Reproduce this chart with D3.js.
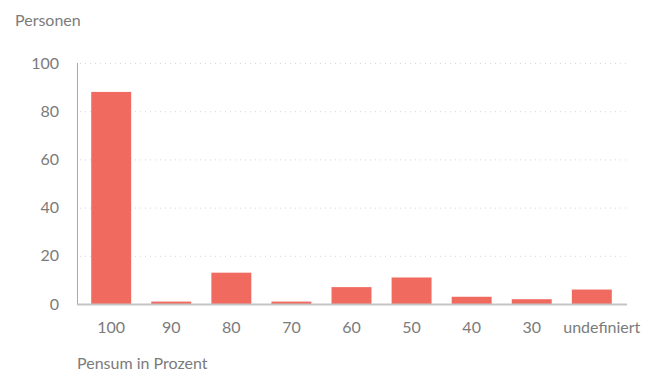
<!DOCTYPE html>
<html>
<head>
<meta charset="utf-8">
<script src="https://cdn.jsdelivr.net/npm/d3@7"></script>
<style>
  body { margin: 0; background: #fff; }
  text { font-family: Lato, "Open Sans", sans-serif; fill: #7b7b7b; }
</style>
</head>
<body>
<div id="graph"></div>
<script>
const categories = ['100', '90', '80', '70', '60', '50', '40', '30', 'undefiniert']
const values = [88, 1, 13, 1, 7, 11, 3, 2, 6]
const yTicks = [0, 20, 40, 60, 80, 100]

const width = 661
const height = 372
const margin = {top: 63, right: 34, bottom: 68, left: 77}

const svg = d3.select('#graph')
  .append('svg')
  .attr('width', width)
  .attr('height', height)

const x = d3.scaleBand()
  .domain(categories)
  .range([81, 622])
  .paddingInner(0.335)
  .paddingOuter(0.17)

const y = d3.scaleLinear()
  .domain([0, 100])
  .range([height - margin.bottom, margin.top])

// dotted grid
svg.append('g')
  .selectAll('line')
  .data(yTicks.filter(d => d > 0))
  .join('line')
  .attr('x1', margin.left + 3)
  .attr('x2', width - margin.right)
  .attr('y1', d => y(d) + 0.5)
  .attr('y2', d => y(d) + 0.5)
  .attr('stroke', '#d6d6d6')
  .attr('stroke-dasharray', '1,4')

// y labels
svg.append('g')
  .selectAll('text')
  .data(yTicks)
  .join('text')
  .attr('x', 59)
  .attr('y', d => y(d))
  .attr('dy', '0.35em')
  .attr('text-anchor', 'end')
  .style('font-size', '16px')
  .text(d => d)

// bars
svg.append('g')
  .selectAll('rect')
  .data(values)
  .join('rect')
  .attr('x', (d, i) => x(categories[i]))
  .attr('width', x.bandwidth())
  .attr('y', d => y(d))
  .attr('height', d => y(0) - y(d))
  .attr('fill', '#f06a60')

// axis lines
svg.append('line')
  .attr('x1', margin.left + 0.5)
  .attr('x2', margin.left + 0.5)
  .attr('y1', margin.top)
  .attr('y2', y(0))
  .attr('stroke', '#aaa')

svg.append('line')
  .attr('x1', margin.left)
  .attr('x2', width - margin.right)
  .attr('y1', y(0) + 0.5)
  .attr('y2', y(0) + 0.5)
  .attr('stroke', '#c4c4c4')
  .attr('stroke-width', 2)

// x labels (the long last one is pushed a little right, as in the original)
svg.append('g')
  .selectAll('text')
  .data(categories)
  .join('text')
  .attr('x', (d, i) => x(d) + x.bandwidth() / 2 + (i === categories.length - 1 ? 10 : 0))
  .attr('y', 333)
  .attr('text-anchor', 'middle')
  .style('font-size', '16px')
  .text(d => d)

svg.append('text')
  .attr('x', 15)
  .attr('y', 26)
  .style('font-size', '16px')
  .text('Personen')

svg.append('text')
  .attr('x', 77)
  .attr('y', 369)
  .style('font-size', '16px')
  .text('Pensum in Prozent')
</script>
</body>
</html>
